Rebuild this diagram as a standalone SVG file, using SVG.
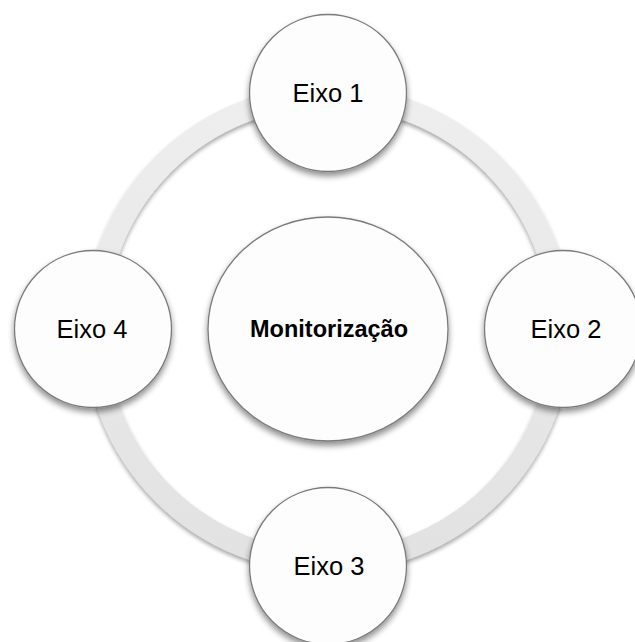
<svg xmlns="http://www.w3.org/2000/svg" width="635" height="642" viewBox="0 0 635 642">
  <defs>
    <filter id="shadow" x="-20%" y="-20%" width="140%" height="150%">
      <feGaussianBlur in="SourceAlpha" stdDeviation="3"/>
      <feOffset dx="0" dy="4" result="b"/>
      <feComponentTransfer><feFuncA type="linear" slope="0.45"/></feComponentTransfer>
      <feMerge><feMergeNode/><feMergeNode in="SourceGraphic"/></feMerge>
    </filter>
    <filter id="ringshadow" x="-10%" y="-10%" width="120%" height="120%">
      <feGaussianBlur in="SourceAlpha" stdDeviation="2"/>
      <feOffset dx="0" dy="3" result="b"/>
      <feComponentTransfer><feFuncA type="linear" slope="0.35"/></feComponentTransfer>
      <feMerge><feMergeNode/><feMergeNode in="SourceGraphic"/></feMerge>
    </filter>
    <linearGradient id="ringgrad" x1="0" y1="0" x2="0" y2="1">
      <stop offset="0" stop-color="#eeeeee"/>
      <stop offset="1" stop-color="#e2e2e2"/>
    </linearGradient>
  </defs>
  <style>
    .node { fill: #fdfdfd; stroke: #7a7a7a; stroke-width: 1.3; }
    .lbl { font-family: "Liberation Sans", Arial, sans-serif; font-size: 25.5px; fill: #000; text-anchor: middle; }
    .center { font-family: "Liberation Sans", Arial, sans-serif; font-size: 23.5px; font-weight: bold; fill: #000; text-anchor: middle; }
  </style>
  <rect width="635" height="642" fill="#ffffff"/>
  <g id="connectors">
    <circle cx="328" cy="329" r="233" fill="none" stroke="url(#ringgrad)" stroke-width="22" filter="url(#ringshadow)"/>
  </g>
  <g id="center">
    <ellipse class="node" cx="328" cy="329" rx="120" ry="112" filter="url(#shadow)"/>
    <text class="center" x="329" y="337">Monitorização</text>
  </g>
  <g id="eixo1">
    <circle class="node" cx="328" cy="93" r="78.5" filter="url(#shadow)"/>
    <text class="lbl" x="328" y="102">Eixo 1</text>
  </g>
  <g id="eixo2">
    <circle class="node" cx="563" cy="329" r="78.5" filter="url(#shadow)"/>
    <text class="lbl" x="566" y="338">Eixo 2</text>
  </g>
  <g id="eixo3">
    <circle class="node" cx="328" cy="566" r="78.5" filter="url(#shadow)"/>
    <text class="lbl" x="329" y="575">Eixo 3</text>
  </g>
  <g id="eixo4">
    <circle class="node" cx="93" cy="329" r="78.5" filter="url(#shadow)"/>
    <text class="lbl" x="92" y="338">Eixo 4</text>
  </g>
</svg>
